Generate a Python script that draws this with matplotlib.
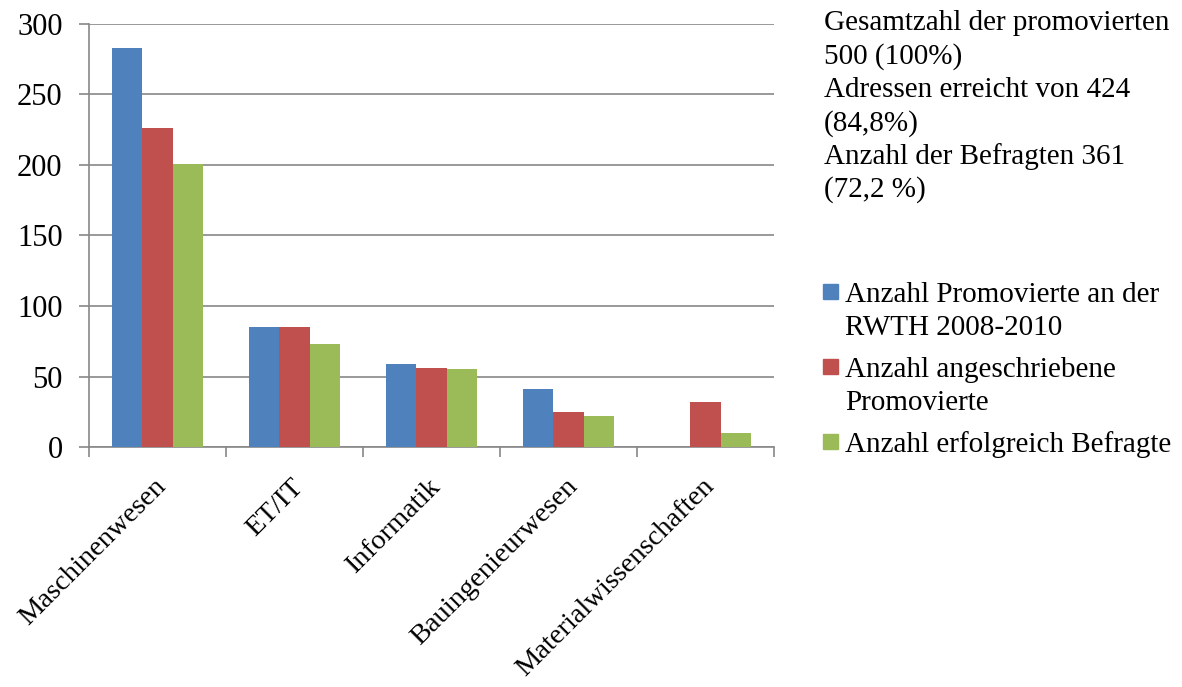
import numpy as np
import matplotlib
matplotlib.use("Agg")
import matplotlib.pyplot as plt
from matplotlib.patches import Rectangle

plt.rcParams['font.family'] = ['Liberation Serif', 'DejaVu Serif']

# Daten
faecher = ['Maschinenwesen', 'ET/IT', 'Informatik', 'Bauingenieurwesen', 'Materialwissenschaften']
promovierte = [283, 85, 59, 41, 0]
angeschrieben = [226, 85, 56, 25, 32]
befragt = [201, 73, 55, 22, 10]
reihen = ['Anzahl Promovierte an der\nRWTH 2008-2010',
          'Anzahl angeschriebene\nPromovierte',
          'Anzahl erfolgreich Befragte']
farben = ['#4F81BD', '#C0504D', '#9BBB59']
info_zeilen = ['Gesamtzahl der promovierten', '500 (100%)',
               'Adressen erreicht von 424', '(84,8%)',
               'Anzahl der Befragten 361', '(72,2 %)']

W, H = 1182, 687
fig = plt.figure(figsize=(W / 100, H / 100), dpi=100)
ax = fig.add_axes([89 / W, 1 - 447 / H, (774 - 89) / W, (447 - 24) / H])

grau = '#888888'
x = np.arange(len(faecher))
bw = 0.223
for i, (werte, col) in enumerate(zip([promovierte, angeschrieben, befragt], farben)):
    ax.bar(x + (i - 1) * bw, werte, bw, color=col, zorder=3)

ax.set_xlim(-0.5, len(faecher) - 0.5)
ax.set_ylim(0, 300)
ax.set_yticks(np.arange(0, 301, 50))
ax.yaxis.grid(True, color=grau, lw=1.2, zorder=0)
ax.set_axisbelow(True)
for s in ['top', 'right']:
    ax.spines[s].set_visible(False)
for s in ['left', 'bottom']:
    ax.spines[s].set_color(grau)
    ax.spines[s].set_linewidth(1.2)

# Ticks an den Kategoriegrenzen
ax.set_xticks(np.arange(-0.5, len(faecher)))
ax.set_xticklabels([])
ax.tick_params(axis='x', length=7, width=1.2, color=grau)
ax.tick_params(axis='y', length=7, width=1.2, color=grau, labelsize=22, pad=12)
for i, name in enumerate(faecher):
    ax.annotate(name, xy=(i, 0), xycoords=('data', 'axes fraction'),
                xytext=(5, -36), textcoords='offset pixels',
                rotation=45, ha='right', va='center', rotation_mode='anchor',
                fontsize=20.5)

# Info-Text rechts oben
for k, zeile in enumerate(info_zeilen):
    fig.text(824 / W, 1 - (30 + k * 33.4) / H, zeile, fontsize=21, va='baseline')

# Legende
basis = [302, 377, 452]
for b, lab, col in zip(basis, reihen, farben):
    fig.add_artist(Rectangle((823 / W, 1 - (b - 3) / H), 15 / W, 15 / H,
                             color=col, transform=fig.transFigure))
    for j, teil in enumerate(lab.split('\n')):
        fig.text(845 / W, 1 - (b + j * 33) / H, teil, fontsize=21, va='baseline')

fig.savefig('out.png', dpi=100)
